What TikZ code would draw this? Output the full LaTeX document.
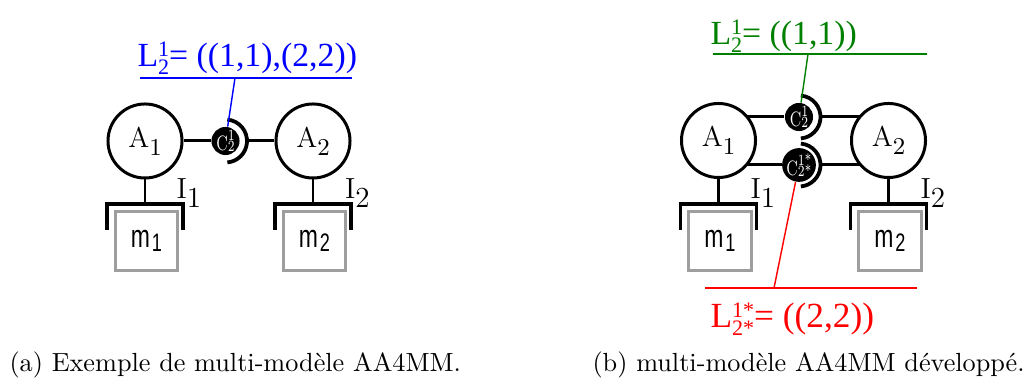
\documentclass[tikz,border=0pt]{standalone}
\usepackage{fontspec}
\usepackage{graphicx}
\newfontfamily\lblfont{Liberation Serif}
\newfontfamily\boxfont{Liberation Sans}
\usetikzlibrary{calc,backgrounds}
\definecolor{lgreen}{rgb}{0,0.5,0}
\definecolor{boxgray}{gray}{0.62}
\newcommand\Asub[1]{A\raisebox{-3pt}{\fontsize{9.3}{9}\selectfont #1}}
\newcommand\Isub[1]{I\raisebox{-3.2pt}{#1}}
\newcommand\Csub[2]{\scalebox{0.72}[1]{C\rlap{\raisebox{3.9pt}{\fontsize{6}{6}\selectfont #1}}\raisebox{-0.3pt}{\fontsize{6}{6}\selectfont #2}}}
\newcommand\Lsup[2]{L\rlap{\raisebox{3.9pt}{\fontsize{8.5}{8}\selectfont #1}}\raisebox{-2.7pt}{\fontsize{8.5}{8}\selectfont #2}}
\newcommand\mlab[1]{\scalebox{0.93}[1.3]{m\hspace{0.8pt}\raisebox{-1pt}{\fontsize{7.5}{8}\selectfont #1}}}
\begin{document}
\begin{tikzpicture}[x=0.385pt,y=0.385pt,
  agent/.style={circle,draw,fill=white,line width=1.15pt,minimum size=28.5pt,inner sep=0pt,font=\fontsize{11}{12}\selectfont},
  cdisc/.style={circle,fill=black,minimum size=10.8pt,inner sep=0pt,text=white,font=\fontsize{8}{9}\selectfont},
  socket/.style={circle,minimum size=16.55pt,inner sep=0pt,outer sep=0pt},
  mbox/.style={draw=boxgray,line width=1.05pt,minimum width=24pt,minimum height=22.8pt,inner sep=0pt,font=\boxfont\fontsize{9.5}{10}\selectfont},
  wire/.style={line width=1.15pt},
  brk/.style={line width=1.5pt},
  sock/.style={line width=1.45pt},
  lead/.style={line width=0.55pt},
  uline/.style={line width=0.65pt},
  lbl/.style={anchor=base west,inner sep=0pt,font=\lblfont\fontsize{13}{14}\selectfont},
  ilbl/.style={anchor=base west,inner sep=0pt,font=\fontsize{11.2}{12}\selectfont},
  captext/.style={anchor=base west,inner sep=0pt,font=\fontsize{10.1}{12}\selectfont}]
\useasboundingbox (0,0) rectangle (1029,383);

% ---------- panel (a) ----------
\node[agent] (a1) at (145,242) {\Asub{1}};
\node[agent] (a2) at (313,242) {\Asub{2}};
\node[cdisc] (ac) at (225.5,242) {\Csub{1}{2}};
\node[socket] (acs) at (225.5,242) {};
\draw[wire] (a1) -- (ac);
\draw[wire] (acs) -- (a2);
\draw[sock] (acs.85) arc[start angle=85,end angle=-85,radius=8.28pt];

\coordinate (ab1) at (145,179);
\coordinate (ab2) at (313,179);
\draw[wire] (a1) -- (ab1);
\draw[wire] (a2) -- (ab2);
\draw[brk] ($(ab1)+(-38,-26)$) -- ($(ab1)+(-38,0)$) -- ($(ab1)+(38,0)$) -- ($(ab1)+(38,-26)$);
\draw[brk] ($(ab2)+(-38,-26)$) -- ($(ab2)+(-38,0)$) -- ($(ab2)+(38,0)$) -- ($(ab2)+(38,-26)$);
\node[mbox] (am1) at (146.5,142) {\mlab{1}};
\node[mbox] (am2) at (314.5,142) {\mlab{2}};
\node[ilbl] (ai1) at (176,184) {\Isub{1}};
\node[ilbl] (ai2) at (344.5,184) {\Isub{2}};

\node[lbl,text=blue] (al) at (137,316) {\Lsup{1}{2}= ((1,1),(2,2))};
\coordinate (au1) at (140,305);
\coordinate (au2) at (352,305);
\coordinate (alp) at (235,305);
\draw[uline,blue] (au1) -- (au2);
\draw[lead,blue] (alp) -- (ac);

\node[captext] (capa) at (9,11) {(a) Exemple de multi-modèle AA4MM.};

% ---------- panel (b) ----------
\node[agent] (b1) at (718.5,242.5) {\Asub{1}};
\node[agent] (b2) at (888.5,242.5) {\Asub{2}};
\node[cdisc] (bc1) at (799,266) {\Csub{1}{2}};
\node[socket] (bc1s) at (799,266) {};
\node[cdisc] (bc2) at (799,218) {\Csub{1*}{2*}};
\node[socket] (bc2s) at (799,218) {};
\begin{scope}[on background layer]
\draw[wire] (b1.center |- bc1) -- (bc1);
\draw[wire] (bc1s) -- (b2.center |- bc1s);
\draw[wire] (b1.center |- bc2) -- (bc2);
\draw[wire] (bc2s) -- (b2.center |- bc2s);
\end{scope}
\draw[sock] (bc1s.85) arc[start angle=85,end angle=-85,radius=8.28pt];
\draw[sock] (bc2s.85) arc[start angle=85,end angle=-85,radius=8.28pt];

\coordinate (bb1) at (718.5,179);
\coordinate (bb2) at (888.5,179);
\draw[wire] (b1) -- (bb1);
\draw[wire] (b2) -- (bb2);
\draw[brk] ($(bb1)+(-38,-26)$) -- ($(bb1)+(-38,0)$) -- ($(bb1)+(38,0)$) -- ($(bb1)+(38,-26)$);
\draw[brk] ($(bb2)+(-38,-26)$) -- ($(bb2)+(-38,0)$) -- ($(bb2)+(38,0)$) -- ($(bb2)+(38,-26)$);
\node[mbox] (bm1) at (720,142) {\mlab{1}};
\node[mbox] (bm2) at (890,142) {\mlab{2}};
\node[ilbl] (bi1) at (750,184) {\Isub{1}};
\node[ilbl] (bi2) at (920,184) {\Isub{2}};

\node[lbl,text=lgreen] (bl1) at (710,338) {\Lsup{1}{2}= ((1,1))};
\coordinate (bu1) at (713,329);
\coordinate (bu2) at (927,329);
\coordinate (blp) at (808,329);
\draw[uline,lgreen] (bu1) -- (bu2);
\draw[lead,lgreen] (blp) -- (bc1);

\node[lbl,text=red,font=\lblfont\fontsize{13.6}{14}\selectfont] (bl2) at (710,55) {\Lsup{1*}{2*}= ((2,2))};
\coordinate (bv1) at (705,95);
\coordinate (bv2) at (917,95);
\coordinate (bvp) at (774,95);
\draw[uline,red] (bv1) -- (bv2);
\draw[lead,red] (bvp) -- (bc2);

\node[captext] (capb) at (592,11) {(b) multi-modèle AA4MM développé.};
\end{tikzpicture}
\end{document}
